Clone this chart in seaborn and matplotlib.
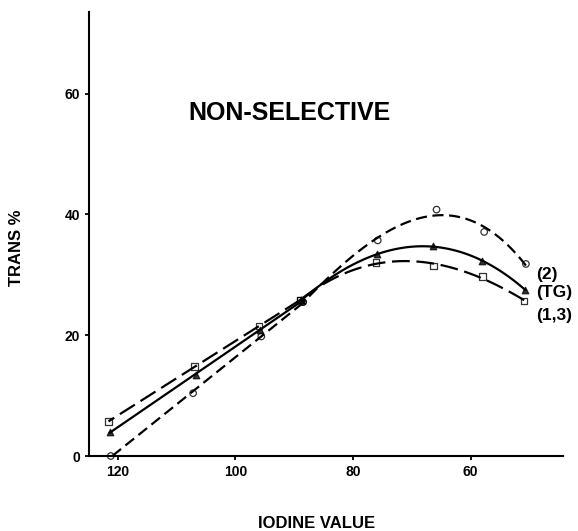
import numpy as np
import pandas as pd
import seaborn as sns
import matplotlib
matplotlib.use("Agg")
import matplotlib.pyplot as plt

# values
iodine_2 = [121.2, 107.2, 95.6, 88.5, 75.8, 65.8, 57.7, 50.6]
trans_2 = [0.0, 10.4, 19.8, 25.5, 35.7, 40.8, 37.1, 31.8]

iodine_tg = [121.4, 106.7, 95.8, 88.8, 75.9, 66.4, 58.0, 50.7]
trans_tg = [4.0, 13.4, 20.8, 25.8, 33.4, 34.7, 32.3, 27.5]

iodine_13 = [121.6, 107.0, 96.0, 89.0, 76.1, 66.3, 58.0, 50.9]
trans_13 = [5.7, 14.8, 21.5, 25.8, 32.0, 31.5, 29.7, 25.7]

x_ticks = [120, 100, 80, 60]
y_ticks = [0, 20, 40, 60]

sns.set_style("ticks", rc={"axes.edgecolor": "black", "text.color": "black",
                           "axes.labelcolor": "black", "xtick.color": "black",
                           "ytick.color": "black"})
plt.rcParams["font.family"] = ["Liberation Sans", "DejaVu Sans"]
plt.rcParams["font.weight"] = "bold"

fig = plt.figure(figsize=(5.78, 5.31), dpi=100)
ax = fig.add_axes([0.154, 0.1412, 0.820, 0.836])

series = [
    ("(2)", iodine_2, trans_2, "o", "none", (0, (5, 2.5))),
    ("(TG)", iodine_tg, trans_tg, "^", "black", "-"),
    ("(1,3)", iodine_13, trans_13, "s", "none", (0, (8, 3))),
]

for name, xs, ys, mk, fc, ls in series:
    df = pd.DataFrame({"iodine": xs, "trans": ys})
    # straight run at high iodine values, curved part after the crossing
    lower = df.iloc[:4]
    upper = df.iloc[3:]
    lk = {"linestyle": ls, "linewidth": 1.6}
    sns.regplot(data=lower, x="iodine", y="trans", ci=None, ax=ax,
                marker=mk, color="black",
                scatter_kws={"s": 22, "facecolors": fc, "edgecolors": "black",
                             "linewidths": 0.9, "clip_on": False, "zorder": 3},
                line_kws=lk)
    sns.regplot(data=upper, x="iodine", y="trans", order=3, ci=None, ax=ax,
                marker=mk, color="black",
                scatter_kws={"s": 22, "facecolors": fc, "edgecolors": "black",
                             "linewidths": 0.9, "clip_on": False, "zorder": 3},
                line_kws=lk)

ax.set_xlim(124.9, 44.3)
ax.set_ylim(0, 73.5)
ax.set_xticks(x_ticks)
ax.set_yticks(y_ticks)
ax.tick_params(direction="out", length=3, width=1.3, labelsize=10)
for lab in ax.get_xticklabels() + ax.get_yticklabels():
    lab.set_fontweight("bold")
for s in ["top", "right"]:
    ax.spines[s].set_visible(False)
for s in ["left", "bottom"]:
    ax.spines[s].set_linewidth(1.5)

ax.set_xlabel("IODINE VALUE", fontsize=12, fontweight="bold")
ax.set_ylabel("TRANS %", fontsize=12, fontweight="bold")
ax.xaxis.set_label_coords(0.481, -0.135)
ax.yaxis.set_label_coords(-0.137, 0.47)

ax.text(90.8, 56.8, "NON-SELECTIVE", fontsize=18, fontweight="bold",
        ha="center", va="center")
ax.text(48.9, 30.1, "(2)", fontsize=12.5, fontweight="bold", ha="left", va="center")
ax.text(48.9, 27.0, "(TG)", fontsize=12.5, fontweight="bold", ha="left", va="center")
ax.text(48.9, 23.3, "(1,3)", fontsize=12.5, fontweight="bold", ha="left", va="center")

fig.savefig("out.png", dpi=100)
